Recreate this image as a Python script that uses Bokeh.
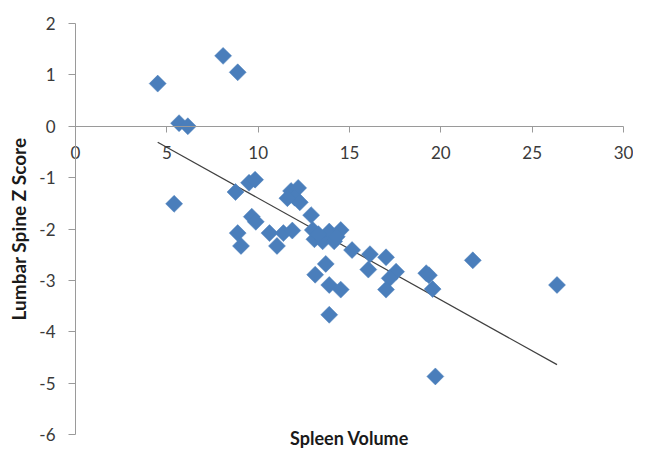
from bokeh.plotting import figure
from bokeh.models import Range1d, FixedTicker, Label, PrintfTickFormatter
from bokeh.embed import file_html
from bokeh.resources import INLINE
import numpy as np

spleen_volume = [4.5, 5.67, 6.15, 8.08, 8.88, 5.4, 8.76, 9.5, 9.83, 11.8,
                 12.19, 12.0, 12.28, 9.65, 9.87, 8.88, 9.06, 10.62, 11.03, 11.38,
                 11.87, 12.9, 12.99, 13.08, 13.53, 13.89, 14.16, 14.52, 15.14, 16.12,
                 16.03, 17.0, 17.55, 17.2, 17.0, 19.2, 19.55, 21.75, 13.7, 13.12,
                 13.89, 14.52, 13.89, 19.7, 26.36, 13.3, 14.3, 11.6, 19.35]
z_score = [0.83, 0.06, 0.0, 1.37, 1.05, -1.51, -1.28, -1.10, -1.04, -1.26,
           -1.20, -1.39, -1.48, -1.76, -1.86, -2.08, -2.33, -2.08, -2.33, -2.08,
           -2.03, -1.73, -2.02, -2.20, -2.24, -2.05, -2.24, -2.02, -2.41, -2.49,
           -2.79, -2.55, -2.83, -2.96, -3.18, -2.86, -3.17, -2.61, -2.68, -2.89,
           -3.09, -3.18, -3.67, -4.87, -3.09, -2.10, -2.15, -1.40, -2.90]

trend_x = [4.5, 26.36]
trend_y = [-0.31, -4.64]

x_ticks = [0, 5, 10, 15, 20, 25, 30]
y_ticks = [2, 1, 0, -1, -2, -3, -4, -5, -6]

FONT = "Lato"
TICK_COLOR = "#3a3a3a"
AXIS_COLOR = "#9a9a9a"

W, H = 633, 451
X0_PX, X30_PX = 75, 623      # canvas px of x=0 and x=30
Y2_PX, YM6_PX = 23, 434      # canvas px of y=2 and y=-6
sx = (X30_PX - X0_PX) / 30.0
sy = (YM6_PX - Y2_PX) / 8.0

p = figure(width=W, height=H, output_backend="svg", toolbar_location=None,
           x_range=Range1d(-X0_PX / sx, 30 + (W - X30_PX) / sx),
           y_range=Range1d(-6 - (H - YM6_PX) / sy, 2 + Y2_PX / sy),
           min_border=0, min_border_left=0, min_border_right=0,
           min_border_top=0, min_border_bottom=0)
p.outline_line_color = None
p.grid.visible = False
p.background_fill_color = "white"
p.border_fill_color = "white"

fmt = PrintfTickFormatter(format="%d")

# x axis crossing at y = 0
xa = p.xaxis[0]
xa.fixed_location = 0
xa.bounds = (0, 30)
xa.ticker = FixedTicker(ticks=x_ticks)
xa.formatter = fmt
xa.axis_line_color = AXIS_COLOR
xa.major_tick_line_color = AXIS_COLOR
xa.major_tick_out = 6
xa.major_tick_in = 0
xa.minor_tick_line_color = None
xa.major_label_standoff = 14
xa.major_label_text_font = FONT
xa.major_label_text_font_size = "17px"
xa.major_label_text_color = TICK_COLOR

ya = p.yaxis[0]
ya.fixed_location = 0
ya.bounds = (-6, 2)
ya.ticker = FixedTicker(ticks=y_ticks)
ya.formatter = fmt
ya.axis_line_color = AXIS_COLOR
ya.major_tick_line_color = AXIS_COLOR
ya.major_tick_out = 7
ya.major_tick_in = 0
ya.minor_tick_line_color = None
ya.major_label_standoff = 13
ya.major_label_text_font = FONT
ya.major_label_text_font_size = "17px"
ya.major_label_text_color = TICK_COLOR
ya.axis_label = "Lumbar Spine Z Score"
ya.axis_label_text_font = FONT
ya.axis_label_text_font_style = "bold"
ya.axis_label_text_font_size = "19px"
ya.axis_label_text_color = "#1a1a1a"
ya.axis_label_standoff = 6

p.line(trend_x, trend_y, line_color="#404040", line_width=1.2)
p.scatter(spleen_volume, z_score, marker="square", size=12, angle=np.pi / 4,
          fill_color="#4A7EBB", line_color="#4A7EBB", line_width=0.5)

p.add_layout(Label(x=15, y=-6, text="Spleen Volume", text_align="center",
                   text_baseline="middle", y_offset=-3, text_font=FONT,
                   text_font_style="bold", text_font_size="18px",
                   text_color="#1a1a1a"))

open("out.html", "w").write(file_html(p, INLINE))
